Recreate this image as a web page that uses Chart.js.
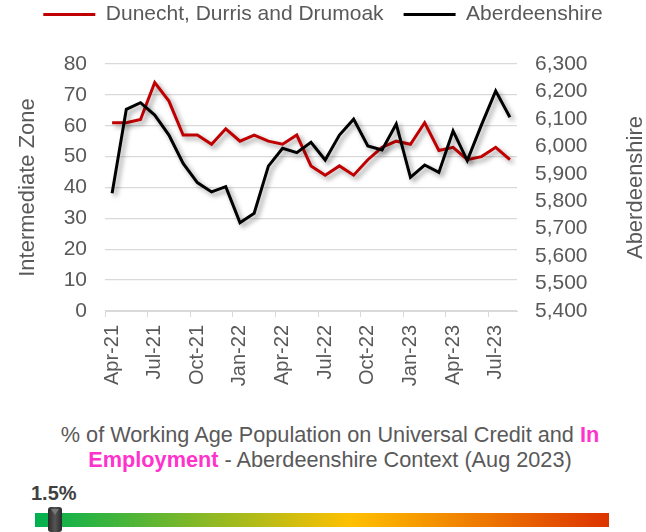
<!DOCTYPE html>
<html>
<head>
<meta charset="utf-8">
<script src="https://cdn.jsdelivr.net/npm/chart.js@4.4.0/dist/chart.umd.min.js"></script>
<style>
    body { margin: 0; background: #fff; font-family: "Liberation Sans", Arial, sans-serif; }
    .page { position: relative; width: 646px; height: 532px; overflow: hidden; }
    #ucChart { position: absolute; left: 0; top: 0; }
    .context-title {
        position: absolute; left: 7px; top: 422px; width: 646px;
        text-align: center; font-size: 21.7px; line-height: 25px; color: #595959;
    }
    .context-title b { color: #ff33cc; }
    .scale-value {
        position: absolute; left: 31px; top: 483px;
        font-size: 20px; line-height: 20px; font-weight: bold; color: #404040;
    }
    .scale-bar {
        position: absolute; left: 35px; top: 513px; width: 574px; height: 14px;
        background: linear-gradient(to right, #00b050 0%, #ffc000 55%, #dd3300 100%);
    }
    .scale-marker {
        position: absolute; left: 48px; top: 507px; width: 14px; height: 25px;
        border-radius: 3px; background: linear-gradient(to right, #2a2a2a, #555 50%, #2a2a2a);
    }
    .scale-marker::before {
        content: ""; position: absolute; left: 3px; top: 2px;
        border-left: 4px solid transparent; border-right: 4px solid transparent;
        border-top: 6px solid #777;
    }
</style>
</head>
<body>
<div class="page">
    <canvas id="ucChart" width="646" height="395"></canvas>
    <div class="context-title">% of Working Age Population on Universal Credit and <b>In<br>Employment</b> - Aberdeenshire Context (Aug 2023)</div>
    <div class="scale-value">1.5%</div>
    <div class="scale-bar"></div>
    <div class="scale-marker"></div>
</div>

<script>
// Monthly claimant counts, Apr-21 to Aug-23
const months = [
    'Apr-21', 'May-21', 'Jun-21', 'Jul-21', 'Aug-21', 'Sep-21', 'Oct-21', 'Nov-21', 'Dec-21',
    'Jan-22', 'Feb-22', 'Mar-22', 'Apr-22', 'May-22', 'Jun-22', 'Jul-22', 'Aug-22', 'Sep-22',
    'Oct-22', 'Nov-22', 'Dec-22', 'Jan-23', 'Feb-23', 'Mar-23', 'Apr-23', 'May-23', 'Jun-23',
    'Jul-23', 'Aug-23'
];
const zoneValues = [61, 61, 62, 74, 68, 57, 57, 54, 59, 55, 57, 55, 54, 57, 47, 44, 47, 44,
    49, 53, 55, 54, 61, 52, 53, 49, 50, 53, 49];
const shireValues = [5829, 6135, 6159, 6114, 6041, 5938, 5868, 5834, 5853, 5722, 5756, 5928,
    5993, 5977, 6015, 5950, 6041, 6099, 6001, 5987, 6081, 5887, 5932, 5905, 6056, 5948, 6078,
    6202, 6106];
const zoneTicks = [0, 10, 20, 30, 40, 50, 60, 70, 80];
const shireTicks = [5400, 5500, 5600, 5700, 5800, 5900, 6000, 6100, 6200, 6300];

const seriesNames = ['Dunecht, Durris and Drumoak', 'Aberdeenshire'];
const seriesColors = ['#c00000', '#000000'];

const FONT = '"Liberation Sans", Arial, sans-serif';
const TEXT = '#595959';
const GRID = '#d9d9d9';

// soft drop shadow under each line, like the Excel original
const lineShadow = {
    id: 'lineShadow',
    beforeDatasetDraw(chart) {
        const c = chart.ctx;
        c.save();
        c.shadowColor = 'rgba(0,0,0,0.4)';
        c.shadowBlur = 5;
        c.shadowOffsetX = 3;
        c.shadowOffsetY = 3;
    },
    afterDatasetDraw(chart) {
        chart.ctx.restore();
    }
};

// make the legend box tall enough to push the plot down
const legendSpace = {
    id: 'legendSpace',
    beforeInit(chart) {
        const fit = chart.legend.fit;
        chart.legend.fit = function () {
            fit.call(this);
            this.height = 80;
        };
    }
};

// right-hand axis title reads bottom-to-top in the original
const rightTitle = {
    id: 'rightTitle',
    afterDraw(chart) {
        const { ctx, chartArea } = chart;
        ctx.save();
        ctx.translate(chart.scales.y1.right - 10, (chartArea.top + chartArea.bottom) / 2);
        ctx.rotate(-Math.PI / 2);
        ctx.font = '22px ' + FONT;
        ctx.fillStyle = TEXT;
        ctx.textAlign = 'center';
        ctx.textBaseline = 'middle';
        ctx.fillText(seriesNames[1], 0, 0);
        ctx.restore();
    }
};

new Chart(document.getElementById('ucChart'), {
    type: 'line',
    data: {
        labels: months,
        datasets: [
            {
                label: seriesNames[0],
                data: zoneValues,
                yAxisID: 'y',
                borderColor: seriesColors[0],
                backgroundColor: seriesColors[0],
                borderWidth: 3,
                pointRadius: 0,
                order: 1
            },
            {
                label: seriesNames[1],
                data: shireValues,
                yAxisID: 'y1',
                borderColor: seriesColors[1],
                backgroundColor: seriesColors[1],
                borderWidth: 3,
                pointRadius: 0,
                order: 0
            }
        ]
    },
    options: {
        responsive: false,
        animation: false,
        layout: { padding: { top: -16, left: 0, right: 0, bottom: 0 } },
        plugins: {
            tooltip: { enabled: false },
            legend: {
                position: 'top',
                labels: {
                    color: TEXT,
                    font: { family: FONT, size: 21 },
                    boxWidth: 52,
                    boxHeight: 3,
                    padding: 20,
                    generateLabels: (chart) => chart.data.datasets.map((ds, i) => ({
                        text: ds.label,
                        fillStyle: ds.borderColor,
                        strokeStyle: ds.borderColor,
                        lineWidth: 0,
                        fontColor: TEXT,
                        hidden: false,
                        datasetIndex: i
                    }))
                }
            }
        },
        scales: {
            x: {
                offset: true,
                afterFit: (s) => { s.height = 84; },
                border: { color: GRID, width: 1 },
                grid: {
                    offset: true,
                    drawOnChartArea: false,
                    drawTicks: true,
                    tickLength: 6,
                    tickColor: (ctx) => (ctx.index % 3 === 0 ? GRID : 'rgba(0,0,0,0)')
                },
                ticks: {
                    autoSkip: false,
                    minRotation: 90,
                    maxRotation: 90,
                    padding: 8,
                    color: TEXT,
                    font: { family: FONT, size: 20 },
                    callback: (v, i) => (i % 3 === 0 ? months[i] : '')
                }
            },
            y: {
                position: 'left',
                min: zoneTicks[0],
                max: zoneTicks[zoneTicks.length - 1],
                afterFit: (s) => { s.width = 105; },
                afterBuildTicks: (s) => { s.ticks = zoneTicks.map((v) => ({ value: v })); },
                border: { display: false },
                grid: { color: GRID, lineWidth: 1.3, drawTicks: false },
                ticks: {
                    autoSkip: false,
                    padding: 18,
                    color: TEXT,
                    font: { family: FONT, size: 21 }
                },
                title: {
                    display: true,
                    text: 'Intermediate Zone',
                    color: TEXT,
                    font: { family: FONT, size: 22 },
                    padding: { top: 15, bottom: 0 }
                }
            },
            y1: {
                position: 'right',
                min: shireTicks[0],
                max: shireTicks[shireTicks.length - 1],
                afterFit: (s) => { s.width = 129; },
                afterBuildTicks: (s) => { s.ticks = shireTicks.map((v) => ({ value: v })); },
                border: { display: false },
                grid: { drawOnChartArea: false, drawTicks: false },
                ticks: {
                    autoSkip: false,
                    padding: 18,
                    color: TEXT,
                    font: { family: FONT, size: 21 },
                    callback: (v) => v.toLocaleString('en-US')
                }
            }
        }
    },
    plugins: [lineShadow, legendSpace, rightTitle]
});
</script>
</body>
</html>
